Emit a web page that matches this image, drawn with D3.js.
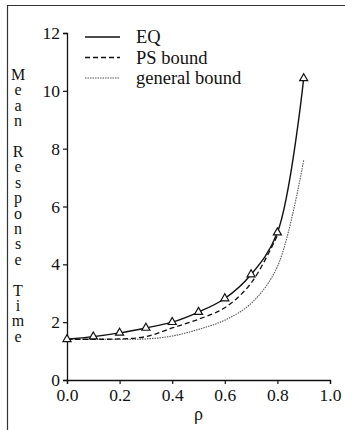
<!DOCTYPE html>
<html>
<head>
<meta charset="utf-8">
<script src="https://cdn.jsdelivr.net/npm/d3@7"></script>
</head>
<body style="margin:0">
<svg id="chart" width="345" height="430"></svg>
<script>
// Load levels (rho) and mean response times for each curve
const rhoEQ = [0.0, 0.1, 0.2, 0.3, 0.4, 0.5, 0.6, 0.7, 0.8, 0.9];
const eqValues = [1.41, 1.50, 1.63, 1.80, 2.00, 2.35, 2.82, 3.65, 5.10, 10.43];

const rhoPS = [0.0, 0.1, 0.2, 0.3, 0.4, 0.5, 0.6, 0.7, 0.8];
const psValues = [1.41, 1.41, 1.42, 1.50, 1.80, 2.10, 2.50, 3.35, 5.00];

const rhoGen = [0.0, 0.1, 0.2, 0.3, 0.4, 0.5, 0.6, 0.7, 0.8, 0.9];
const genValues = [1.41, 1.41, 1.41, 1.42, 1.52, 1.75, 2.07, 2.65, 3.92, 7.60];

const xTicks = [0.0, 0.2, 0.4, 0.6, 0.8, 1.0];
const yTicks = [0, 2, 4, 6, 8, 10, 12];
const legendLabels = ["EQ", "PS bound", "general bound"];
const yTitle = "Mean Response Time";

const SERIF = "Liberation Serif";

const svg = d3.select("#chart");

// Frame lines along the top and left
svg.append("line").attr("x1", 7).attr("x2", 345).attr("y1", 5.5).attr("y2", 5.5)
  .attr("stroke", "#333").attr("stroke-width", 1.2);
svg.append("line").attr("x1", 7.5).attr("x2", 7.5).attr("y1", 5).attr("y2", 430)
  .attr("stroke", "#333").attr("stroke-width", 1.2);

const x = d3.scaleLinear().domain([0, 1]).range([67, 330]);
const y = d3.scaleLinear().domain([0, 12]).range([380, 33]);

const fmt = d3.format(".1f");

const xAxis = svg.append("g")
  .attr("transform", `translate(0,${y(0)})`)
  .call(d3.axisBottom(x).tickValues(xTicks).tickFormat(fmt).tickSize(4).tickPadding(5));
const yAxis = svg.append("g")
  .attr("transform", `translate(${x(0)},0)`)
  .call(d3.axisLeft(y).tickValues(yTicks).tickSize(4).tickPadding(3));

[xAxis, yAxis].forEach(g => {
  g.attr("font-family", null).attr("font-size", null);
  g.select(".domain").attr("stroke", "#111").attr("stroke-width", 1.3);
  g.selectAll(".tick line").attr("stroke", "#111").attr("stroke-width", 1.2);
  g.selectAll(".tick text").attr("fill", "#111")
    .attr("font-family", SERIF).attr("font-size", 17.5)
    .style("font-family", SERIF).style("font-size", "17.5px");
});

// Axis titles
svg.append("text").attr("x", x(0.5)).attr("y", 420)
  .attr("text-anchor", "middle")
  .attr("font-family", SERIF).attr("font-size", 18)
  .style("font-family", SERIF).style("font-size", "18px")
  .attr("fill", "#111").text("ρ");

// Vertical y title, one letter per row
const letters = yTitle.split("");
svg.append("g").selectAll("text").data(letters).join("text")
  .attr("x", 18).attr("y", (d, i) => 80 + i * 15.4)
  .attr("text-anchor", "middle")
  .attr("font-family", SERIF).attr("font-size", 16)
  .style("font-family", SERIF).style("font-size", "16px")
  .attr("fill", "#111")
  .text(d => d);

// Curves
const mk = (xs, vs) => xs.map((r, i) => ({ r, v: vs[i] }));
const line = d3.line().x(d => x(d.r)).y(d => y(d.v)).curve(d3.curveCatmullRom.alpha(0.5));

const gen = mk(rhoGen, genValues);
const ps = mk(rhoPS, psValues);
const eq = mk(rhoEQ, eqValues);

svg.append("path").datum(gen).attr("d", line)
  .attr("fill", "none").attr("stroke", "#555").attr("stroke-width", 1.1)
  .attr("stroke-dasharray", "1.5,1");
svg.append("path").datum(ps).attr("d", line)
  .attr("fill", "none").attr("stroke", "#111").attr("stroke-width", 1.3)
  .attr("stroke-dasharray", "5,3");
svg.append("path").datum(eq).attr("d", line)
  .attr("fill", "none").attr("stroke", "#111").attr("stroke-width", 1.4);

// Triangle markers on EQ
const tri = d3.symbol().type(d3.symbolTriangle).size(28);
svg.append("g").selectAll("path").data(eq).join("path")
  .attr("d", tri)
  .attr("transform", d => `translate(${x(d.r)},${y(d.v)})`)
  .attr("fill", "#fff").attr("stroke", "#111").attr("stroke-width", 1.2);

// Legend
const legendStyles = [
  { dash: null, color: "#111", w: 1.3 },
  { dash: "5,3", color: "#111", w: 1.3 },
  { dash: "1.5,1", color: "#555", w: 1.1 }
];
const lg = svg.append("g");
legendLabels.forEach((lab, i) => {
  const ly = 37 + i * 20.5;
  lg.append("line").attr("x1", 85).attr("x2", 120).attr("y1", ly).attr("y2", ly)
    .attr("stroke", legendStyles[i].color).attr("stroke-width", legendStyles[i].w)
    .attr("stroke-dasharray", legendStyles[i].dash);
  lg.append("text").attr("x", 136).attr("y", ly + 6)
    .attr("font-family", SERIF).attr("font-size", 18.5)
    .style("font-family", SERIF).style("font-size", "18.5px")
    .attr("fill", "#111")
    .text(lab);
});
</script>
</body>
</html>
